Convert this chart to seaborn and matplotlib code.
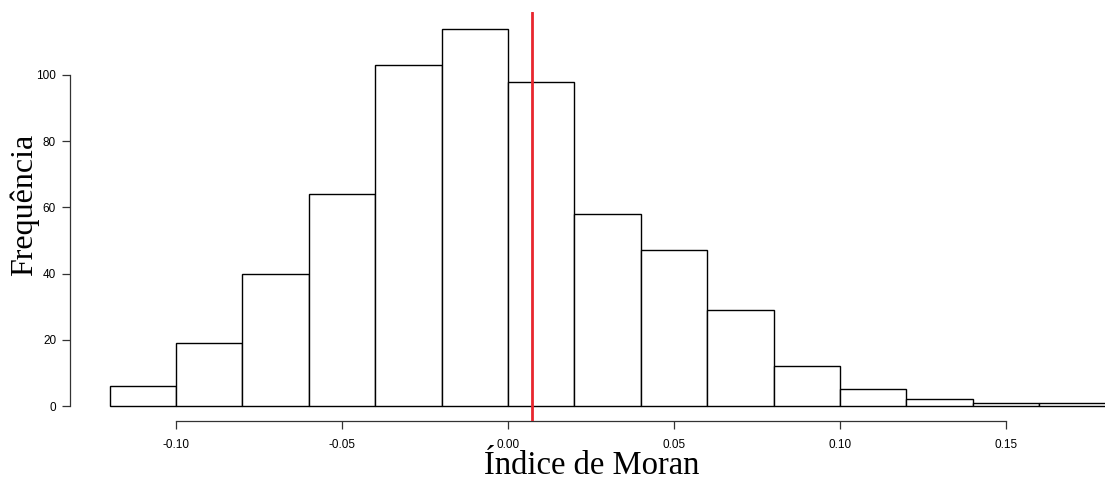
import seaborn as sns
import pandas as pd
import matplotlib.pyplot as plt
import numpy as np

# histogram of Moran's I (permutation) - counts
bin_edges = [-0.12, -0.10, -0.08, -0.06, -0.04, -0.02, 0.00, 0.02, 0.04,
             0.06, 0.08, 0.10, 0.12, 0.14, 0.16, 0.18]
counts = [6, 19, 40, 64, 103, 114, 98, 58, 47, 29, 12, 5, 2, 1, 1]
moran_obs = 0.0072
x_ticks = [-0.10, -0.05, 0.00, 0.05, 0.10, 0.15]
y_ticks = [0, 20, 40, 60, 80, 100]

sns.set_style("ticks")
plt.rcParams['font.family'] = ['Liberation Sans', 'DejaVu Sans']
plt.rcParams['text.color'] = 'black'
plt.rcParams['xtick.labelcolor'] = 'black'
plt.rcParams['ytick.labelcolor'] = 'black'

mids = [(a + b) / 2 for a, b in zip(bin_edges[:-1], bin_edges[1:])]
d = pd.DataFrame({'mid': mids, 'n': counts})

fig = plt.figure(figsize=(11.05, 4.9), dpi=100)
ax = fig.add_axes([70 / 1105, 69 / 490, 1035 / 1105, 409 / 490])

sns.histplot(data=d, x='mid', weights='n', bins=bin_edges, ax=ax,
             color='white', edgecolor='black', linewidth=1.0, alpha=1)
ax.axvline(moran_obs, color='#e8262e', lw=2.0, zorder=5)

ax.set_xlim(-0.1319, 0.1798)
ax.set_ylim(-4.53, 119.0)

for s in ['top', 'right']:
    ax.spines[s].set_visible(False)
ax.spines['left'].set_bounds(0, 100)
ax.spines['bottom'].set_bounds(-0.10, 0.15)
for s in ['left', 'bottom']:
    ax.spines[s].set_linewidth(0.9)
    ax.spines[s].set_color('#333333')

ax.set_xticks(x_ticks)
ax.set_xticklabels(['%.2f' % v for v in x_ticks])
ax.set_yticks(y_ticks)
ax.set_yticklabels([str(v) for v in y_ticks])
ax.tick_params(axis='both', length=6, width=0.9, color='#333333',
               labelsize=8.5, pad=4)
ax.tick_params(axis='x', pad=7)

ax.set_xlabel('Índice de Moran', family=['Liberation Serif', 'DejaVu Serif'],
              size=23.5, color='black')
ax.set_ylabel('Frequência', family=['Liberation Serif', 'DejaVu Serif'],
              size=23, color='black')
ax.xaxis.set_label_coords(0.504, -0.073)
ax.yaxis.set_label_coords(-0.030, 0.528)

plt.savefig('out.png', dpi=100)
plt.close()
